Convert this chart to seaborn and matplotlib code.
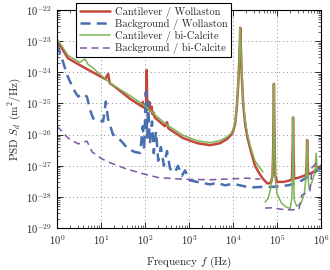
import numpy as np
import pandas as pd
import matplotlib
matplotlib.use("Agg")
import matplotlib.pyplot as plt
from matplotlib.lines import Line2D
import seaborn as sns


# values, in decades:
# log10(f / Hz) and log10(PSD / (m^2/Hz))

# Cantilever / Wollaston
cw_logf = [0.0, 0.25, 0.52, 0.8, 1.1, 1.16, 1.2, 1.32, 1.66, 1.93, 1.95, 1.97, 2.0,
           2.03, 2.04, 2.05, 2.08, 2.1, 2.12, 2.15, 2.17, 2.2, 2.22, 2.45, 2.5, 2.53,
           2.86, 3.2, 3.48, 3.7, 3.86, 3.95, 4.0, 4.05, 4.09, 4.12, 4.145, 4.158,
           4.165, 4.172, 4.185, 4.2, 4.23, 4.28, 4.33, 4.4, 4.5, 4.6, 4.68, 4.78,
           4.86, 4.9, 4.915, 4.93, 4.945, 4.96, 5.0, 5.15, 5.3, 5.34, 5.355, 5.365,
           5.375, 5.39, 5.5, 5.66, 5.675, 5.685, 5.695, 5.71, 5.8, 5.88, 5.93, 6.0]
cw_logp = [-22.98, -23.55, -23.77, -23.99, -24.22, -24.05, -24.35, -24.47, -24.85,
           -25.1, -24.95, -25.12, -25.16, -25.0, -23.93, -25.1, -25.2, -24.95, -25.25,
           -25.1, -25.35, -25.3, -25.45, -25.73, -25.6, -25.8, -26.11, -26.28, -26.34,
           -26.28, -26.15, -26.02, -25.9, -25.65, -25.05, -24.35, -23.5, -22.9, -22.57,
           -22.9, -23.5, -24.1, -25.0, -25.7, -26.1, -26.5, -27.0, -27.25, -27.42,
           -27.57, -27.55, -27.3, -26.3, -24.37, -26.3, -27.3, -27.52, -27.52, -27.47,
           -27.42, -26.5, -25.45, -26.5, -27.42, -27.38, -27.3, -26.8, -26.18, -26.8,
           -27.28, -27.22, -27.15, -27.08, -27.0]

# Background / Wollaston
bw_logf = [0.0, 0.14, 0.23, 0.3, 0.41, 0.48, 0.59, 0.68, 0.75, 0.82, 0.93, 1.05,
           1.11, 1.16, 1.27, 1.39, 1.5, 1.61, 1.77, 1.89, 1.95, 1.98, 2.02, 2.05,
           2.07, 2.11, 2.16, 2.2, 2.25, 2.3, 2.36, 2.43, 2.5, 2.57, 2.68, 2.75, 2.84,
           2.91, 3.02, 3.25, 3.48, 3.64, 3.82, 4.0, 4.16, 4.39, 4.66, 4.91, 5.25, 5.48,
           5.64, 5.8, 5.91, 6.0]
bw_logp = [-23.1, -23.68, -24.09, -24.31, -24.63, -24.78, -24.69, -24.78, -25.2,
           -25.48, -25.54, -25.58, -24.94, -25.5, -25.99, -26.11, -26.27, -26.46,
           -26.56, -26.59, -25.73, -26.5, -24.63, -26.1, -24.94, -26.3, -25.58, -26.6,
           -25.9, -26.84, -26.4, -27.0, -26.53, -27.1, -27.22, -27.0, -27.32, -27.15,
           -27.47, -27.54, -27.6, -27.55, -27.63, -27.58, -27.63, -27.7, -27.68,
           -27.68, -27.63, -27.54, -27.41, -27.28, -27.16, -27.06]

# Cantilever / bi-Calcite (two pieces)
cb1_logf = [0.0, 0.25, 0.52, 0.6, 0.64, 0.7, 0.8, 1.1, 1.27, 1.66, 2.0, 2.45, 2.86,
            3.2, 3.48, 3.7, 3.86, 3.95, 4.0, 4.05, 4.09, 4.12, 4.145, 4.158, 4.165,
            4.172, 4.185, 4.2, 4.23, 4.28, 4.33, 4.4, 4.5, 4.6, 4.68]
cb1_logp = [-22.92, -23.46, -23.68, -23.6, -23.58, -23.74, -23.84, -24.22, -24.41,
            -24.75, -25.08, -25.64, -26.02, -26.2, -26.26, -26.2, -26.08, -25.97,
            -25.85, -25.6, -25.0, -24.3, -23.5, -22.9, -22.57, -22.9, -23.5, -24.0,
            -24.9, -25.6, -26.0, -26.4, -26.85, -27.05, -27.2]
cb2_logf = [4.73, 4.8, 4.86, 4.9, 4.915, 4.93, 4.945, 4.96, 5.0, 5.1, 5.2, 5.3, 5.34,
            5.355, 5.365, 5.375, 5.39, 5.45, 5.55, 5.62, 5.665, 5.685, 5.7, 5.73,
            5.8, 5.86, 5.89, 5.91, 5.93]
cb2_logp = [-28.17, -28.05, -27.7, -27.2, -26.3, -24.37, -26.3, -27.4, -27.9, -28.2,
            -28.32, -28.38, -28.0, -26.8, -25.45, -26.8, -28.1, -28.3, -28.2, -27.9,
            -27.3, -26.18, -27.3, -27.75, -27.5, -27.2, -26.6, -27.1, -27.15]

# Background / bi-Calcite (two pieces)
bb1_logf = [0.0, 0.25, 0.48, 0.68, 0.8, 1.02, 1.25, 1.55, 1.93, 2.3, 2.7, 3.0, 3.5,
            4.0, 4.3, 4.62]
bb1_logp = [-25.73, -26.11, -26.3, -26.21, -26.56, -26.78, -26.93, -27.09, -27.25,
            -27.38, -27.42, -27.44, -27.45, -27.42, -27.4, -27.43]
bb2_logf = [4.73, 4.9, 5.1, 5.3, 5.5, 5.56, 5.75, 5.8, 5.87, 5.95]
bb2_logp = [-28.36, -28.35, -28.4, -28.42, -28.4, -27.95, -27.8, -27.05, -26.96, -26.8]

labels = ["Cantilever / Wollaston", "Background / Wollaston",
          "Cantilever / bi-Calcite", "Background / bi-Calcite"]
colors = ["#c4473b", "#4a6fb0", "#7db356", "#7d55a3"]


def to_frame(pieces):
    frames = []
    for i, (lf, lp) in enumerate(pieces):
        frames.append(pd.DataFrame({"f": 10.0 ** np.asarray(lf),
                                    "psd": 10.0 ** np.asarray(lp),
                                    "seg": i}))
    return pd.concat(frames, ignore_index=True)


sns.set_style("ticks")
plt.rcParams["font.family"] = ["serif"]
plt.rcParams["font.serif"] = ["cmr10", "DejaVu Serif"]
plt.rcParams["mathtext.fontset"] = "cm"
plt.rcParams["axes.unicode_minus"] = False
plt.rcParams["axes.formatter.use_mathtext"] = True

fig = plt.figure(figsize=(3.3, 2.7), dpi=100)
ax = fig.add_axes([57 / 330, 1 - 228 / 270, 264 / 330, 218 / 270])
ax.set_xscale("log")
ax.set_yscale("log")

dash = (0, (4, 2.5))
styles = [dict(linewidth=1.8, linestyle="-"),
          dict(linewidth=1.8, linestyle=dash),
          dict(linewidth=1.1, linestyle="-"),
          dict(linewidth=1.1, linestyle=(0, (4.5, 3)))]
data = [to_frame([(cw_logf, cw_logp)]),
        to_frame([(bw_logf, bw_logp)]),
        to_frame([(cb1_logf, cb1_logp), (cb2_logf, cb2_logp)]),
        to_frame([(bb1_logf, bb1_logp), (bb2_logf, bb2_logp)])]

for df, c, st in zip(data, colors, styles):
    sns.lineplot(data=df, x="f", y="psd", units="seg", estimator=None, sort=False,
                 color=c, ax=ax, legend=False, **st)

ax.set_xlim(1, 1e6)
ax.set_ylim(1e-29, 1e-22)
ax.grid(True, which="major", linestyle=(0, (1, 3)), color="0.55", linewidth=0.7)
ax.tick_params(which="both", direction="in", top=True, right=True, labelsize=7.6)
ax.tick_params(which="major", length=4, width=0.7)
ax.tick_params(which="minor", length=2, width=0.5)
for sp in ax.spines.values():
    sp.set_linewidth(0.8)
    sp.set_color("black")

ax.set_xlabel("Frequency $f$ (Hz)", fontsize=8, labelpad=6)
ax.set_ylabel("PSD $S_d$ (m$^2$/Hz)", fontsize=8, labelpad=2)

handles = [Line2D([0], [0], color=c, **st) for c, st in zip(colors, styles)]
leg = ax.legend(handles, labels, loc="upper center", bbox_to_anchor=(0.366, 1.03),
                frameon=True, fancybox=False, edgecolor="black", framealpha=1,
                fontsize=7.5, handlelength=2.9, borderpad=0.3, labelspacing=0.12,
                handletextpad=0.5, borderaxespad=0)
leg.get_frame().set_linewidth(0.8)

fig.savefig("out.png", dpi=100)
plt.close(fig)
